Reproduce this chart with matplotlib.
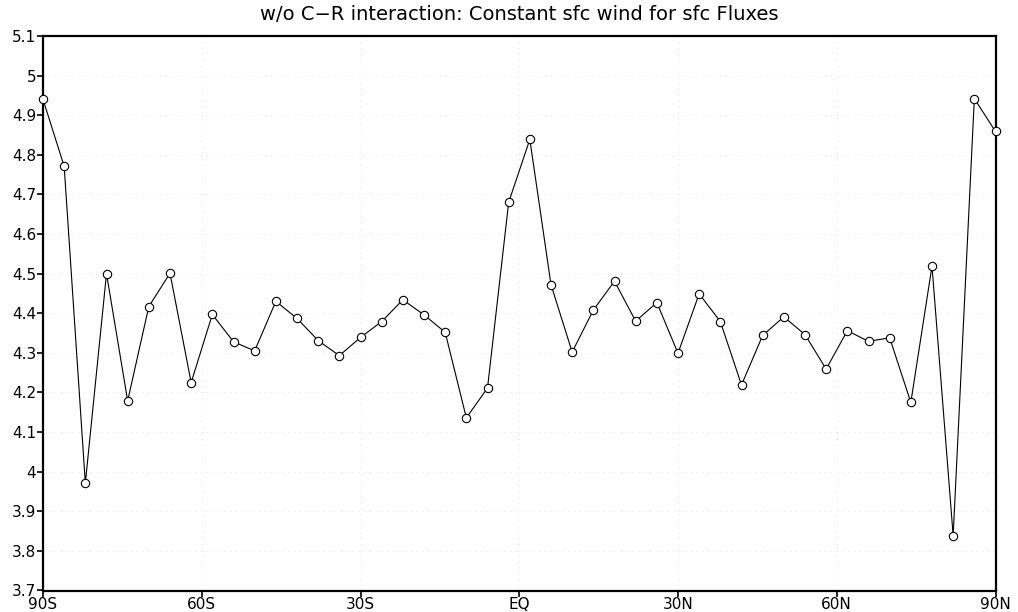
import numpy as np
import matplotlib as mpl
mpl.use('Agg')
import matplotlib.pyplot as plt

mpl.rc('font', family='DejaVu Sans')

# zonal mean values, 4 degree spacing from 90S to 90N
lats = np.arange(-90, 91, 4)
vals = [4.940, 4.771, 3.971, 4.500, 4.179, 4.417, 4.501, 4.225, 4.397, 4.328,
        4.305, 4.430, 4.387, 4.331, 4.293, 4.339, 4.379, 4.434, 4.396, 4.352,
        4.136, 4.211, 4.680, 4.839, 4.472, 4.302, 4.408, 4.481, 4.380, 4.427,
        4.299, 4.449, 4.379, 4.219, 4.344, 4.391, 4.346, 4.259, 4.356, 4.329,
        4.338, 4.175, 4.519, 3.838, 4.942, 4.859]

xticks = [-90, -60, -30, 0, 30, 60, 90]
xlabels = ['90S', '60S', '30S', 'EQ', '30N', '60N', '90N']
yticks = np.round(np.arange(3.7, 5.11, 0.1), 1)
ylabels = ['3.7', '3.8', '3.9', '4', '4.1', '4.2', '4.3', '4.4', '4.5',
           '4.6', '4.7', '4.8', '4.9', '5', '5.1']
title = 'w/o C\u2212R interaction: Constant sfc wind for sfc Fluxes'

fig = plt.figure(figsize=(10.18, 6.12), dpi=100)
ax = fig.add_axes([43/1018, 1 - 590.5/612, (995.5 - 43)/1018, (590.5 - 36)/612])

ax.plot(lats, vals, color='black', linewidth=0.8, marker='o', markersize=6,
        markerfacecolor='white', markeredgecolor='black', markeredgewidth=0.8,
        clip_on=False, zorder=3)

ax.set_xlim(-90, 90)
ax.set_ylim(3.7, 5.1)
ax.set_xticks(xticks)
ax.set_xticklabels(xlabels)
ax.set_yticks(yticks)
ax.set_yticklabels(ylabels)
ax.tick_params(direction='out', length=4, width=1.2, labelsize=11, pad=1,
               colors='black')

ax.grid(True, linestyle=(0, (1, 6)), linewidth=0.6, color='#d8d8d8')
ax.set_axisbelow(True)
for s in ax.spines.values():
    s.set_linewidth(1.6)

fig.text(519/1018, 1 - 15/612, title, ha='center', va='center', fontsize=14)

fig.savefig('out.png', dpi=100)
